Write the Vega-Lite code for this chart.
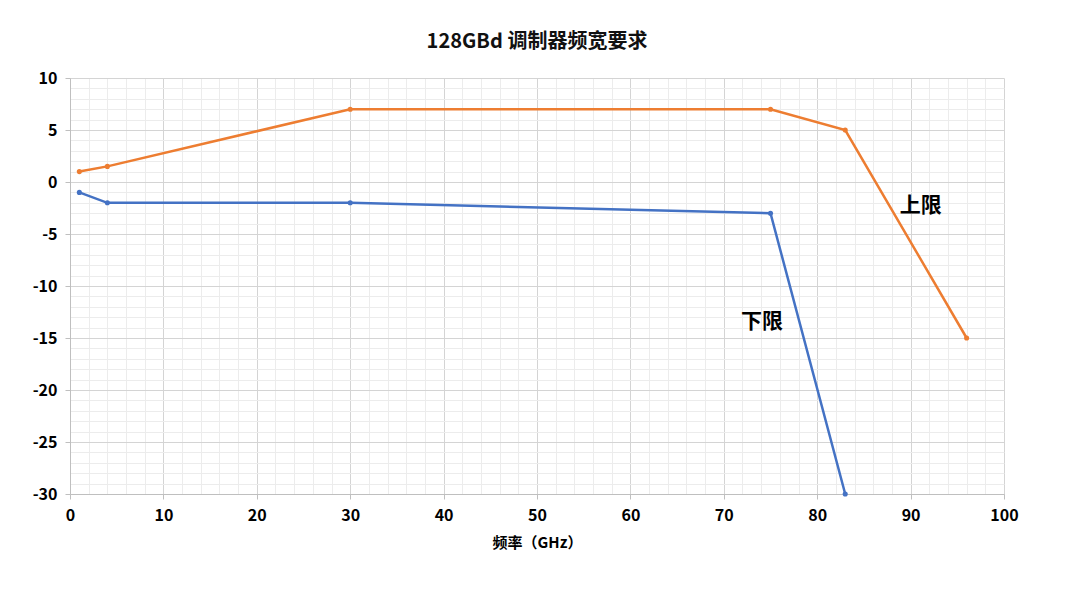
{
  "$schema": "https://vega.github.io/schema/vega-lite/v6.json",
  "autosize": "none",
  "width": 934,
  "height": 416,
  "padding": {"left": 70, "top": 78, "right": 76, "bottom": 114},
  "background": "white",
  "title": {"text": "128GBd 调制器频宽要求", "font": "Noto Sans CJK SC", "fontSize": 20, "fontWeight": "bold", "color": "#111111", "offset": 18, "anchor": "middle"},
  "config": {"view": {"stroke": null}, "font": "Noto Sans CJK SC"},
  "datasets": {
    "lines": [
      {"series": "上限", "freq": 1, "val": 1},
      {"series": "上限", "freq": 4, "val": 1.5},
      {"series": "上限", "freq": 30, "val": 7},
      {"series": "上限", "freq": 75, "val": 7},
      {"series": "上限", "freq": 83, "val": 5},
      {"series": "上限", "freq": 96, "val": -15},
      {"series": "下限", "freq": 1, "val": -1},
      {"series": "下限", "freq": 4, "val": -2},
      {"series": "下限", "freq": 30, "val": -2},
      {"series": "下限", "freq": 75, "val": -3},
      {"series": "下限", "freq": 83, "val": -30}
    ],
    "labels": [
      {"series": "上限", "freq": 91.1, "val": -2.3},
      {"series": "下限", "freq": 74.1, "val": -13.5}
    ]
  },
  "resolve": {"axis": {"x": "independent", "y": "independent"}},
  "layer": [
    {
      "data": {"name": "lines"},
      "mark": {"type": "point", "opacity": 0},
      "encoding": {
        "x": {"field": "freq", "type": "quantitative", "scale": {"domain": [0, 100], "nice": false},
          "axis": {"orient": "bottom", "values": [2,4,6,8,12,14,16,18,22,24,26,28,32,34,36,38,42,44,46,48,52,54,56,58,62,64,66,68,72,74,76,78,82,84,86,88,92,94,96,98], "labels": false, "ticks": false, "domain": false, "title": null, "grid": true, "gridColor": "#ececec", "gridWidth": 1}},
        "y": {"field": "val", "type": "quantitative", "scale": {"domain": [-30, 10], "nice": false},
          "axis": {"orient": "left", "values": [-29,-28,-27,-26,-24,-23,-22,-21,-19,-18,-17,-16,-14,-13,-12,-11,-9,-8,-7,-6,-4,-3,-2,-1,1,2,3,4,6,7,8,9], "labels": false, "ticks": false, "domain": false, "title": null, "grid": true, "gridColor": "#ececec", "gridWidth": 1}}
      }
    },
    {
      "data": {"name": "lines"},
      "mark": {"type": "line", "strokeWidth": 2.5, "point": {"filled": true, "size": 26}},
      "encoding": {
        "x": {"field": "freq", "type": "quantitative", "scale": {"domain": [0, 100], "nice": false},
          "axis": {"orient": "bottom", "values": [0,10,20,30,40,50,60,70,80,90,100], "labelExpr": "datum.value + ''", "labelFlush": false, "grid": true, "gridColor": "#d4d4d4", "gridWidth": 1, "domainColor": "#bfbfbf", "tickColor": "#bfbfbf", "tickSize": 5, "labelFont": "Noto Sans CJK SC", "labelFontSize": 16, "labelFontWeight": "bold", "labelColor": "#000000", "labelPadding": 8, "title": "频率（GHz）", "titleFont": "Noto Sans CJK SC", "titleFontSize": 15, "titleFontWeight": "bold", "titleColor": "#000000", "titlePadding": 12}},
        "y": {"field": "val", "type": "quantitative", "scale": {"domain": [-30, 10], "nice": false},
          "axis": {"orient": "left", "values": [-30,-25,-20,-15,-10,-5,0,5,10], "labelExpr": "datum.value + ''", "labelFlush": false, "grid": true, "gridColor": "#d4d4d4", "gridWidth": 1, "domainColor": "#bfbfbf", "tickColor": "#bfbfbf", "tickSize": 5, "labelFont": "Noto Sans CJK SC", "labelFontSize": 16, "labelFontWeight": "bold", "labelColor": "#000000", "labelPadding": 8, "title": null}},
        "color": {"field": "series", "type": "nominal", "scale": {"domain": ["上限", "下限"], "range": ["#ED7D31", "#4472C4"]}, "legend": null}
      }
    },
    {
      "data": {"name": "labels"},
      "mark": {"type": "text", "font": "Noto Sans CJK SC", "fontSize": 21, "fontWeight": "bold", "color": "#000000"},
      "encoding": {
        "x": {"field": "freq", "type": "quantitative", "scale": {"domain": [0, 100], "nice": false}, "axis": null},
        "y": {"field": "val", "type": "quantitative", "scale": {"domain": [-30, 10], "nice": false}, "axis": null},
        "text": {"field": "series"}
      }
    }
  ]
}
